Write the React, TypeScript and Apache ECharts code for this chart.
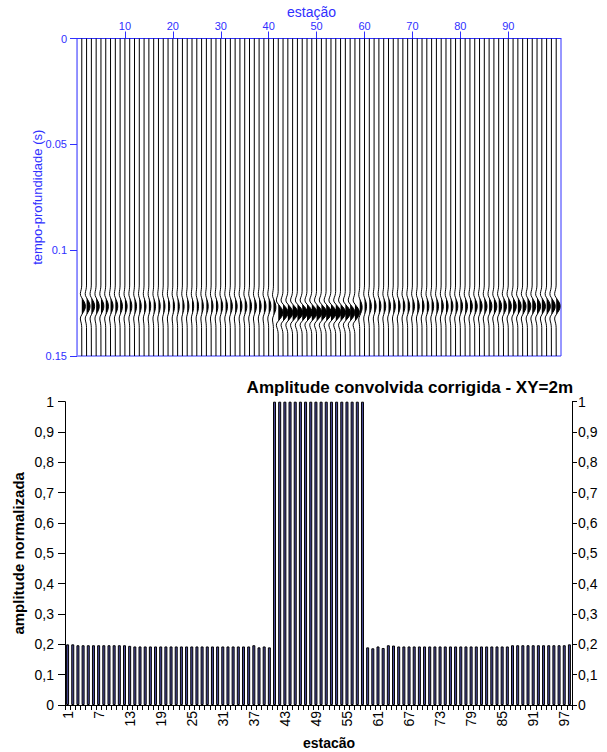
import React, { useEffect, useRef } from 'react';
import * as echarts from 'echarts';

// ---- Top panel: seismic traces ----
const traceStations = Array.from({ length: 100 }, (_, i) => i + 1);
const traceAmp = [
  0.75, 0.72, 0.68, 0.64, 0.6, 0.56, 0.52, 0.5, 0.48, 0.46,
  0.44, 0.42, 0.4, 0.4, 0.38, 0.38, 0.36, 0.36, 0.35, 0.35,
  0.35, 0.35, 0.35, 0.35, 0.36, 0.36, 0.38, 0.38, 0.4, 0.4,
  0.4, 0.42, 0.42, 0.42, 0.44, 0.42, 0.44, 0.42, 0.44, 0.46,
  0.5, 1.0, 1.05, 1.05, 1.1, 1.1, 1.1, 1.1, 1.1, 1.1,
  1.1, 1.1, 1.1, 1.1, 1.05, 1.05, 1.0, 0.95, 0.5, 0.42,
  0.42, 0.42, 0.42, 0.42, 0.42, 0.42, 0.42, 0.42, 0.42, 0.42,
  0.42, 0.42, 0.42, 0.42, 0.44, 0.44, 0.44, 0.44, 0.46, 0.46,
  0.48, 0.5, 0.52, 0.54, 0.56, 0.58, 0.6, 0.6, 0.62, 0.64,
  0.66, 0.68, 0.7, 0.7, 0.72, 0.74, 0.76, 0.78, 0.8, 0.82,
];
const traceTime = [
  0.1265, 0.1265, 0.1265, 0.1265, 0.1265, 0.1265, 0.1265, 0.1265, 0.1265, 0.1265,
  0.1265, 0.1265, 0.1265, 0.1265, 0.1265, 0.1265, 0.1265, 0.1265, 0.1265, 0.1265,
  0.1265, 0.1265, 0.1265, 0.1265, 0.1265, 0.1265, 0.1265, 0.1265, 0.1265, 0.1265,
  0.1265, 0.1265, 0.1265, 0.1265, 0.1265, 0.1265, 0.1265, 0.1265, 0.1265, 0.1265,
  0.127, 0.1295, 0.1295, 0.1295, 0.1295, 0.1295, 0.1295, 0.1295, 0.1295, 0.1295,
  0.1295, 0.1295, 0.1295, 0.1295, 0.1295, 0.1295, 0.1295, 0.1295, 0.127, 0.1265,
  0.1265, 0.1265, 0.1265, 0.1265, 0.1265, 0.1265, 0.1265, 0.1265, 0.1265, 0.1265,
  0.1265, 0.1265, 0.1265, 0.1265, 0.1265, 0.1265, 0.1265, 0.1265, 0.1265, 0.1265,
  0.1265, 0.1265, 0.1265, 0.1265, 0.1265, 0.1265, 0.1265, 0.1265, 0.1265, 0.1265,
  0.1265, 0.1265, 0.1265, 0.1265, 0.1265, 0.1265, 0.1265, 0.1265, 0.1265, 0.1265,
];
const waveletOffset = [
  -0.01, -0.009, -0.008, -0.007, -0.006, -0.005, -0.004, -0.003, -0.002, -0.001, 0,
  0.001, 0.002, 0.003, 0.004, 0.005, 0.006, 0.007, 0.008, 0.009, 0.01,
];
const waveletShape = [
  -0.02, -0.06, -0.15, -0.3, -0.4, -0.32, 0, 0.35, 0.7, 0.93, 1,
  0.93, 0.7, 0.35, 0, -0.32, -0.4, -0.3, -0.15, -0.06, -0.02,
];
const topXTicks = [10, 20, 30, 40, 50, 60, 70, 80, 90];

// ---- Bottom panel: bar chart ----
const barCategories = Array.from({ length: 98 }, (_, i) => String(i + 1));
const barValues = [
  0.2, 0.2, 0.197, 0.197, 0.197, 0.197, 0.197, 0.197, 0.197, 0.197,
  0.197, 0.197, 0.195, 0.193, 0.193, 0.193, 0.193, 0.193, 0.193, 0.193,
  0.193, 0.193, 0.193, 0.193, 0.193, 0.193, 0.193, 0.193, 0.193, 0.193,
  0.193, 0.193, 0.193, 0.193, 0.193, 0.193, 0.197, 0.19, 0.193, 0.19,
  1, 1, 1, 1, 1, 1, 1, 1, 1, 1,
  1, 1, 1, 1, 1, 1, 1, 1, 0.19, 0.187,
  0.193, 0.188, 0.197, 0.196, 0.193, 0.193, 0.193, 0.193, 0.193, 0.193,
  0.193, 0.193, 0.193, 0.193, 0.193, 0.193, 0.193, 0.193, 0.193, 0.193,
  0.193, 0.193, 0.193, 0.193, 0.193, 0.193, 0.197, 0.197, 0.197, 0.197,
  0.197, 0.197, 0.197, 0.197, 0.197, 0.197, 0.197, 0.2,
];

const BLUE = '#3030ff';
const LIGHTBLUE = '#8c8cff';
const FONT = 'Liberation Sans';

const commaFmt = (v: number) => String(Math.round(v * 10) / 10).replace('.', ',');

export default function App() {
  const ref = useRef<HTMLDivElement>(null);
  useEffect(() => {
    const chart = echarts.init(ref.current!, null, { renderer: 'svg' });
    const option: any = {
      animation: false,
      grid: [
        { left: 77, top: 38.5, width: 484, height: 317.5, show: true, borderColor: BLUE, borderWidth: 1 },
        { left: 65, top: 401.7, width: 507, height: 303.3, show: false },
      ],
      xAxis: [
        {
          gridIndex: 0, type: 'value', position: 'top', min: 0, max: 101,
          axisLine: { show: true, lineStyle: { color: BLUE } },
          axisTick: { show: true, customValues: topXTicks, length: 7, lineStyle: { color: BLUE } },
          axisLabel: { customValues: topXTicks, color: BLUE, fontFamily: FONT, fontSize: 11, margin: 7 },
          splitLine: { show: false },
        },
        {
          gridIndex: 1, type: 'category', data: barCategories, boundaryGap: true,
          axisLine: { show: true, lineStyle: { color: '#000' } },
          axisTick: { show: true, interval: 0, length: 5, lineStyle: { color: '#000' } },
          axisLabel: { interval: 5, rotate: 90, color: '#000', fontFamily: FONT, fontSize: 14, margin: 6 },
        },
      ],
      yAxis: [
        {
          gridIndex: 0, type: 'value', inverse: true, min: 0, max: 0.15, interval: 0.05,
          axisLine: { show: true, lineStyle: { color: LIGHTBLUE } },
          axisTick: { show: true, length: 7, lineStyle: { color: BLUE } },
          axisLabel: { color: BLUE, fontFamily: FONT, fontSize: 11, margin: 10 },
          splitLine: { show: false },
          name: 'tempo-profundidade (s)', nameLocation: 'middle', nameGap: 33, nameMoveOverlap: false,
          nameTextStyle: { color: BLUE, fontFamily: FONT, fontSize: 13 },
        },
        {
          gridIndex: 1, type: 'value', min: 0, max: 1, interval: 0.1, position: 'left',
          axisLine: { show: true, lineStyle: { color: '#000' } },
          axisTick: { show: true, length: 7, lineStyle: { color: '#000' } },
          axisLabel: { color: '#000', fontFamily: FONT, fontSize: 14, margin: 11, formatter: commaFmt },
          splitLine: { show: false },
          name: 'amplitude normalizada', nameLocation: 'middle', nameGap: 39, nameMoveOverlap: false,
          nameTextStyle: { color: '#000', fontFamily: FONT, fontSize: 15, fontWeight: 'bold' },
        },
        {
          gridIndex: 1, type: 'value', min: 0, max: 1, interval: 0.1, position: 'right',
          axisLine: { show: true, lineStyle: { color: '#000' } },
          axisTick: { show: true, length: 5, lineStyle: { color: '#000' } },
          axisLabel: { color: '#000', fontFamily: FONT, fontSize: 14, margin: 6, formatter: commaFmt },
          splitLine: { show: false },
        },
      ],
      graphic: [
        {
          type: 'text', left: 287, top: 5,
          style: { text: 'estação', font: `14px "${FONT}"`, fill: BLUE },
        },
        {
          type: 'text', right: 34, top: 379,
          style: { text: 'Amplitude convolvida corrigida - XY=2m', font: `bold 17px "${FONT}"`, fill: '#000' },
        },
        {
          type: 'text', left: 303, top: 736,
          style: { text: 'estacão', font: `bold 14px "${FONT}"`, fill: '#000' },
        },
      ],
      series: [
        {
          type: 'custom', xAxisIndex: 0, yAxisIndex: 0,
          data: traceStations.map((s, i) => [s, traceTime[i]]),
          renderItem: (params: any, api: any) => {
            const i = params.dataIndex;
            const s = api.value(0);
            const t0 = api.value(1);
            const a = traceAmp[i];
            const top = api.coord([s, 0]);
            const bot = api.coord([s, 0.15]);
            const wig = waveletOffset.map((o, j) => api.coord([s + a * waveletShape[j], t0 + o]));
            const fillPts = waveletOffset.map((o, j) => api.coord([s + a * Math.max(0, waveletShape[j]), t0 + o]));
            return {
              type: 'group',
              children: [
                { type: 'polygon', shape: { points: fillPts }, style: { fill: '#000' } },
                { type: 'polyline', shape: { points: [top, ...wig, bot] }, style: { stroke: '#000', lineWidth: 1, fill: null } },
              ],
            };
          },
        },
        {
          type: 'bar', xAxisIndex: 1, yAxisIndex: 1, data: barValues, barWidth: 3,
          itemStyle: { color: '#4a4a9a', borderColor: '#000', borderWidth: 1 },
        },
      ],
    };
    chart.setOption(option);
    return () => chart.dispose();
  }, []);
  return <div ref={ref} style={{ position: 'absolute', left: 0, top: 0, width: 607, height: 752 }} />;
}
